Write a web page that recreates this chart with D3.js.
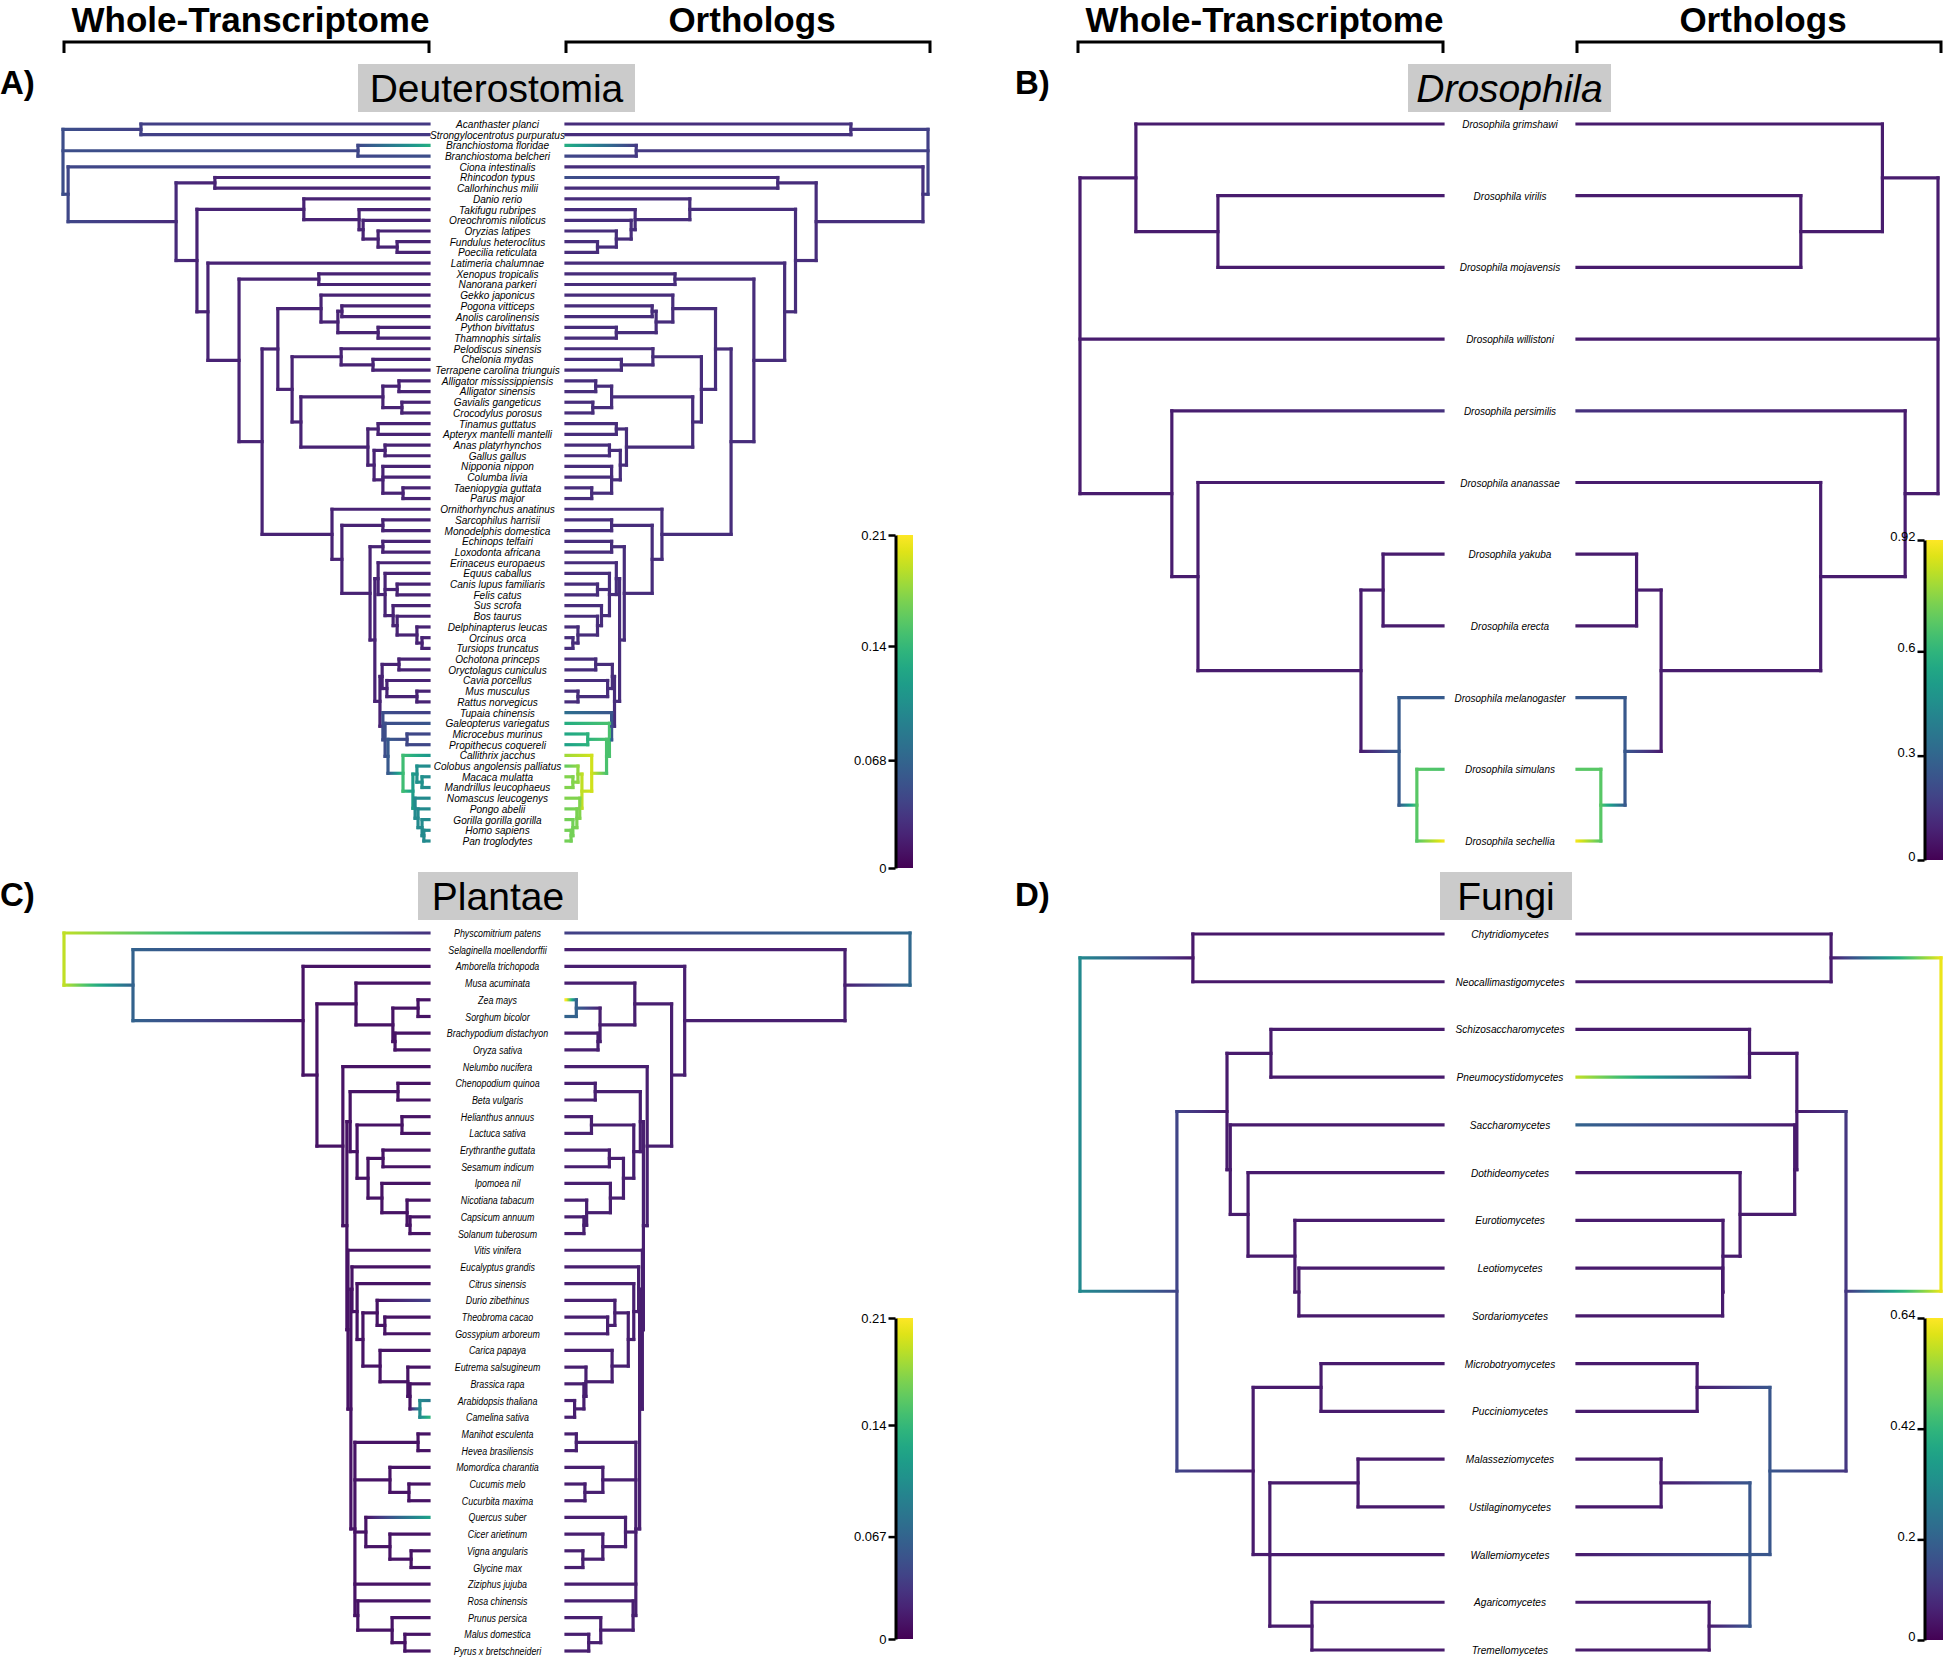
<!DOCTYPE html>
<html><head><meta charset="utf-8">
<script src="https://cdn.jsdelivr.net/npm/d3@7"></script>
<style>
body{margin:0;background:#fff}
text{font-family:"Liberation Sans",Arial,Helvetica,sans-serif}
</style>
</head><body>
<svg id="c" width="1945" height="1658" xmlns="http://www.w3.org/2000/svg"></svg>
<script>
// ---------------- DATA ----------------
// Trees: Newick topology, internal nodes "Name@height" (height: 0 = tips, 1 = root)
const treeA = `(
 (Acanthaster planci,Strongylocentrotus purpuratus)Echinodermata@0.787,
 (Branchiostoma floridae,Branchiostoma belcheri)Branchiostoma@0.194,
 (Ciona intestinalis,
  ((Rhincodon typus,Callorhinchus milii)Chondrichthyes@0.585,
   ((Danio rerio,(Takifugu rubripes,(Oreochromis niloticus,(Oryzias latipes,(Fundulus heteroclitus,Poecilia reticulata)Cyprinodontiformes@0.087)Atherinomorphae@0.139)Ovalentaria@0.180)Percomorpha@0.191)Actinopterygii@0.342,
    (Latimeria chalumnae,
     ((Xenopus tropicalis,Nanorana parkeri)Amphibia@0.301,
      (
       ((Gekko japonicus,((Pogona vitticeps,Anolis carolinensis)Iguania@0.238,(Python bivittatus,Thamnophis sirtalis)Serpentes@0.139)Toxicofera@0.249)Squamata@0.295,
        ((Pelodiscus sinensis,(Chelonia mydas,Terrapene carolina triunguis)Cryptodira@0.153)Testudines@0.240,
         (((Alligator mississippiensis,Alligator sinensis)Alligator@0.082,(Gavialis gangeticus,Crocodylus porosus)Longirostres@0.074)Crocodylia@0.126,
          ((Tinamus guttatus,Apteryx mantelli mantelli)Palaeognathae@0.139,((Anas platyrhynchos,Gallus gallus)Galloanserae@0.120,(Nipponia nippon,Columba livia,(Taeniopygia guttata,Parus major)Passeriformes@0.071)Neoaves@0.126)Neognathae@0.150)Aves@0.167
         )Archosauria@0.350
        )Archelosauria@0.374
       )Sauropsida@0.413,
       (Ornithorhynchus anatinus,
        ((Sarcophilus harrisii,Monodelphis domestica)Marsupialia@0.126,
         ((Echinops telfairi,Loxodonta africana)Afrotheria@0.126,
          ((Erinaceus europaeus,(Equus caballus,(Canis lupus familiaris,Felis catus)Carnivora@0.087,(Sus scrofa,(Bos taurus,(Delphinapterus leucas,(Orcinus orca,Tursiops truncatus)Delphinidae@0.019)Cetacea@0.033)Cetruminantia@0.087)Cetartiodactyla@0.098)Scrotifera@0.120)Laurasiatheria@0.139,
           (((Ochotona princeps,Oryctolagus cuniculus)Lagomorpha@0.082,(Cavia porcellus,(Mus musculus,Rattus norvegicus)Muridae@0.033)Rodentia@0.115)Glires@0.128,
            (Tupaia chinensis,(Galeopterus variegatus,((Microcebus murinus,Propithecus coquereli)Strepsirrhini@0.060,(Callithrix jacchus,((Colobus angolensis palliatus,(Macaca mulatta,Mandrillus leucophaeus)Papionini@0.019)Cercopithecidae@0.033,(Nomascus leucogenys,(Pongo abelii,(Gorilla gorilla gorilla,(Homo sapiens,Pan troglodytes)Hominini@0.014)Homininae@0.019)Hominidae@0.030)Hominoidea@0.038)Catarrhini@0.044)Haplorhini@0.071)Primates@0.112)Primatomorpha@0.120)Euarchonta@0.126
           )Euarchontoglires@0.134
          )Boreoeutheria@0.148
         )Eutheria@0.161
        )Theria@0.238
       )Mammalia@0.265
      )Amniota@0.456
     )Tetrapoda@0.519
    )Sarcopterygii@0.604
   )Osteichthyes@0.634
  )Vertebrata@0.691
 )Olfactores@0.986
)Root@1`;

const treeB = `((Drosophila grimshawi,(Drosophila virilis,Drosophila mojavensis)VirMoj@0.620)Drosophila@0.846,
 Drosophila willistoni,
 (Drosophila persimilis,(Drosophila ananassae,((Drosophila yakuba,Drosophila erecta)YakEre@0.165,(Drosophila melanogaster,(Drosophila simulans,Drosophila sechellia)SimSec@0.072)MelComplex@0.121)MelSub@0.226)MelGroup@0.675)Sophophora@0.747
)Root@1`;

const treeC = `(Physcomitrium patens,
 (Selaginella moellendorffii,
  (Amborella trichopoda,
   ((Musa acuminata,((Zea mays,Sorghum bicolor)Andropogoneae@0.030,(Brachypodium distachyon,Oryza sativa)BOP@0.093)Poaceae@0.099)Monocots@0.200,
    (Nelumbo nucifera,
     (((Chenopodium quinoa,Beta vulgaris)Caryophyllales@0.085,((Helianthus annuus,Lactuca sativa)Asterales@0.074,((Erythranthe guttata,Sesamum indicum)Lamiales@0.126,(Ipomoea nil,(Nicotiana tabacum,(Capsicum annuum,Solanum tuberosum)Solaneae@0.052)Solanaceae@0.060)Solanales@0.129)Lamiids@0.167)Asterids@0.197)Superasterids@0.216,
      (Vitis vinifera,
       ((Eucalyptus grandis,(Citrus sinensis,((Durio zibethinus,(Theobroma cacao,Gossypium arboreum)Malvoideae@0.121)Malvales@0.142,(Carica papaya,(Eutrema salsugineum,(Brassica rapa,(Arabidopsis thaliana,Camelina sativa)Camelineae@0.025)BrassCam@0.052)Brassicaceae@0.058)Brassicales@0.134)MalvBrass@0.181)Malvadendrina@0.197)Malvids@0.211,
        ((Manihot esculenta,Hevea brasiliensis)Malpighiales@0.030,(Momordica charantia,(Cucumis melo,Cucurbita maxima)Cucurbitaceae@0.055)Cucurbitales@0.107,(Quercus suber,(Cicer arietinum,(Vigna angularis,Glycine max)Phaseoleae@0.049)Fabales@0.107)FagFab@0.173,Ziziphus jujuba,(Rosa chinensis,(Prunus persica,(Malus domestica,Pyrus x bretschneideri)Maleae@0.066)Amygdaloideae@0.101)Rosaceae@0.195)Fabids@0.203
       )Rosids@0.214
      )Superrosids@0.222
     )CoreEudicots@0.225
    )Eudicots@0.236
   )Mesangiosperms@0.307
  )Angiosperms@0.345
 )Tracheophyta@0.811
)Root@1`;

const treeD = `((Chytridiomycetes,Neocallimastigomycetes)ChyNeo@0.689,
 (((Schizosaccharomycetes,Pneumocystidomycetes)Taphrinomycotina@0.474,(Saccharomycetes,(Dothideomycetes,(Eurotiomycetes,(Leotiomycetes,Sordariomycetes)LeoSor@0.397)EurLS@0.408)Pezizomycotina@0.537)Saccharomyceta@0.586)Ascomycota@0.595,
  ((Microbotryomycetes,Pucciniomycetes)Pucciniomycotina@0.336,((Malasseziomycetes,Ustilaginomycetes)Ustilaginomycotina@0.234,Wallemiomycetes,(Agaricomycetes,Tremellomycetes)AgaTre@0.361)UstAga@0.477)Basidiomycota@0.523
 )Dikarya@0.733
)Root@1`;

// node heights that differ in the Orthologs trees
const heightsB_right = {Sophophora: 0.909, MelSub: 0.233, MelComplex: 0.133, SimSec: 0.066};
const heightsD_right = {ChyNeo: 0.698, Dikarya: 0.739, Ascomycota: 0.604, Saccharomyceta: 0.598, Pezizomycotina: 0.448,
  EurLS: 0.401, LeoSor: 0.400, Basidiomycota: 0.530, Pucciniomycotina: 0.330, Ustilaginomycotina: 0.231, UstAga: 0.475, AgaTre: 0.363};

// branch colour values (node -> value, "default" for all others)
const colorsA_left = {default: 0.02, Root: 0.05, Echinodermata: 0.04, "Acanthaster planci": 0.035, "Strongylocentrotus purpuratus": 0.035,
  Branchiostoma: 0.045, "Branchiostoma floridae": 0.13, "Branchiostoma belcheri": 0.05, Olfactores: 0.045, "Ciona intestinalis": 0.035,
  Vertebrata: 0.025, Euarchonta: 0.05, "Tupaia chinensis": 0.04, Primatomorpha: 0.05, "Galeopterus variegatus": 0.055, Primates: 0.058,
  Strepsirrhini: 0.045, "Microcebus murinus": 0.045, "Propithecus coquereli": 0.045, Haplorhini: 0.145, "Callithrix jacchus": 0.11,
  Catarrhini: 0.115, Cercopithecidae: 0.105, "Colobus angolensis palliatus": 0.1, Papionini: 0.105, "Macaca mulatta": 0.1,
  "Mandrillus leucophaeus": 0.1, Hominoidea: 0.1, "Nomascus leucogenys": 0.1, Hominidae: 0.1, "Pongo abelii": 0.1, Homininae: 0.1,
  "Gorilla gorilla gorilla": 0.1, Hominini: 0.1, "Homo sapiens": 0.1, "Pan troglodytes": 0.1};
const colorsA_right = {default: 0.027, Root: 0.04, Echinodermata: 0.03, Branchiostoma: 0.035, "Branchiostoma floridae": 0.13,
  "Branchiostoma belcheri": 0.045, Olfactores: 0.03, "Rhincodon typus": 0.05, Euarchonta: 0.055, "Tupaia chinensis": 0.075,
  Primatomorpha: 0.15, "Galeopterus variegatus": 0.13, Primates: 0.15, Strepsirrhini: 0.135, "Microcebus murinus": 0.125,
  "Propithecus coquereli": 0.12, Haplorhini: 0.195, "Callithrix jacchus": 0.18, Catarrhini: 0.19, Cercopithecidae: 0.175,
  "Colobus angolensis palliatus": 0.16, Papionini: 0.17, "Macaca mulatta": 0.17, "Mandrillus leucophaeus": 0.17, Hominoidea: 0.17,
  "Nomascus leucogenys": 0.17, Hominidae: 0.168, "Pongo abelii": 0.165, Homininae: 0.165, "Gorilla gorilla gorilla": 0.165,
  Hominini: 0.165, "Homo sapiens": 0.165, "Pan troglodytes": 0.165};
const colorsB_left = {default: 0.07, "Drosophila persimilis": 0.13, MelComplex: 0.26, "Drosophila melanogaster": 0.26,
  SimSec: 0.68, "Drosophila simulans": 0.66, "Drosophila sechellia": 0.9};
const colorsB_right = {default: 0.07, "Drosophila persimilis": 0.13, MelComplex: 0.25, "Drosophila melanogaster": 0.25,
  SimSec: 0.68, "Drosophila simulans": 0.68, "Drosophila sechellia": 0.9};
const colorsC_left = {default: 0.01, Root: 0.19, "Physcomitrium patens": 0.03, Tracheophyta: 0.065, "Selaginella moellendorffii": 0.015,
  Camelineae: 0.1, "Arabidopsis thaliana": 0.085, "Camelina sativa": 0.135, "Quercus suber": 0.12, "Durio zibethinus": 0.04};
const colorsC_right = {default: 0.018, Root: 0.07, "Physcomitrium patens": 0.04, Andropogoneae: 0.065, "Zea mays": 0.21,
  "Sorghum bicolor": 0.065};
const colorsD_left = {default: 0.045, Root: 0.3, ChyNeo: 0.04, Dikarya: 0.13};
const colorsD_right = {default: 0.045, Root: 0.62, Dikarya: 0.1, Pneumocystidomycetes: 0.58, Saccharomycetes: 0.2,
  Basidiomycota: 0.17, UstAga: 0.17};

// colour bar ticks
const ticksA = ["0", "0.068", "0.14", "0.21"];
const ticksB = ["0", "0.3", "0.6", "0.92"];
const ticksC = ["0", "0.067", "0.14", "0.21"];
const ticksD = ["0", "0.2", "0.42", "0.64"];

const titles = ["Deuterostomia", "Drosophila", "Plantae", "Fungi"];
const panelLetters = ["A)", "B)", "C)", "D)"];
const headers = ["Whole-Transcriptome", "Orthologs"];

// ---------------- LAYOUT ----------------
const svg = d3.select("#c");
const defs = svg.append("defs");
svg.append("rect").attr("width", 1945).attr("height", 1658).attr("fill", "#fff");

function parseTree(str) {
  str = str.replace(/\s*([(),@])\s*/g, "$1").trim();
  let i = 0;
  function node() {
    const n = {children: []};
    if (str[i] === "(") {
      i++;
      n.children.push(node());
      while (str[i] === ",") { i++; n.children.push(node()); }
      i++;
    }
    const s = i;
    while (i < str.length && !",()".includes(str[i])) i++;
    const parts = str.slice(s, i).split("@");
    n.name = parts[0].trim();
    n.h = parts.length > 1 ? +parts[1] : 0;
    return n;
  }
  return node();
}

const vir = defs.append("linearGradient").attr("id", "virbar").attr("x1", 0).attr("y1", 1).attr("x2", 0).attr("y2", 0);
for (let i = 0; i <= 20; i++) vir.append("stop").attr("offset", i / 20).attr("stop-color", d3.interpolateViridis(i / 20));

let gid = 0;
const SW = 3.2;

function drawSide(g, root, panel, side) {
  const x = d3.scaleLinear().domain([0, 1]).range([side.tip, side.root]);
  const y = d3.scaleLinear().domain([0, panel.n - 1]).range([panel.yTop, panel.yBot]);
  const hOf = d => (side.heights && side.heights[d.data.name] !== undefined) ? side.heights[d.data.name] : d.data.h;
  const vOf = d => side.colors[d.data.name] !== undefined ? side.colors[d.data.name] : side.colors.default;
  const col = v => d3.interpolateViridis(Math.max(0, Math.min(1, v / panel.max)));
  let k = 0;
  root.eachAfter(d => {
    if (!d.children) d.yi = k++;
    else d.yi = (d.children[0].yi + d.children[d.children.length - 1].yi) / 2;
  });
  const gl = g.append("g").attr("fill", "none").attr("stroke-width", SW).attr("stroke-linecap", "square");
  root.each(d => {
    if (d.children) {
      gl.append("line").attr("x1", x(hOf(d))).attr("x2", x(hOf(d)))
        .attr("y1", y(d.children[0].yi)).attr("y2", y(d.children[d.children.length - 1].yi))
        .attr("stroke", col(vOf(d)));
    }
  });
  root.each(d => {
    if (!d.parent) return;
    const x1 = x(hOf(d.parent)), x2 = x(hOf(d)), vp = vOf(d.parent), vc = vOf(d);
    let stroke;
    if (Math.abs(vp - vc) < 1e-9) stroke = col(vc);
    else {
      const id = "bg" + (gid++);
      const lg = defs.append("linearGradient").attr("id", id).attr("gradientUnits", "userSpaceOnUse")
        .attr("x1", x1).attr("x2", x2).attr("y1", 0).attr("y2", 0);
      for (let s = 0; s <= 8; s++) lg.append("stop").attr("offset", s / 8).attr("stop-color", col(vp + (vc - vp) * s / 8));
      stroke = `url(#${id})`;
    }
    gl.append("line").attr("x1", x1).attr("x2", x2).attr("y1", y(d.yi)).attr("y2", y(d.yi)).attr("stroke", stroke);
  });
  return y;
}

function drawPanel(p) {
  const g = svg.append("g");
  const mk = () => d3.hierarchy(parseTree(p.tree), d => d.children.length ? d.children : null);
  const rl = mk(), rr = mk();
  const y = drawSide(g, rl, p, p.left);
  drawSide(g, rr, p, p.right);
  // tip labels
  rl.leaves().forEach(d => {
    g.append("text").attr("transform", `translate(${p.labelX},${y(d.yi)}) scale(${p.sx},1)`)
      .attr("text-anchor", "middle").attr("dy", "0.35em").attr("font-style", "italic")
      .attr("font-size", p.font).attr("fill", "#000").text(d.data.name);
  });
  // title box
  g.append("rect").attr("x", p.box[0]).attr("y", p.box[1]).attr("width", p.box[2] - p.box[0]).attr("height", p.box[3] - p.box[1]).attr("fill", "#cbcbcb");
  g.append("text").attr("x", (p.box[0] + p.box[2]) / 2).attr("y", p.titleY).attr("text-anchor", "middle")
    .attr("font-size", 39).attr("font-style", p.italicTitle ? "italic" : "normal").text(p.title);
  g.append("text").attr("x", p.letterX).attr("y", p.letterY).attr("font-size", 33).attr("font-weight", "bold").text(p.letter);
  // colour bar
  const b = p.bar;
  g.append("rect").attr("x", b.x).attr("y", b.y0).attr("width", b.w).attr("height", b.y1 - b.y0).attr("fill", "url(#virbar)");
  const s = d3.scaleLinear().domain([0, p.max]).range([b.y1, b.y0]);
  const ax = g.append("g").attr("transform", `translate(${b.x - 1.5},0)`)
    .call(d3.axisLeft(s).tickValues(p.ticks.map(Number)).tickFormat((d, i) => p.ticks[i]).tickSize(7).tickSizeOuter(0).tickPadding(2));
  ax.select(".domain").attr("stroke", "#000").attr("stroke-width", 3);
  ax.selectAll(".tick line").attr("stroke", "#000").attr("stroke-width", 2.5);
  ax.selectAll(".tick text").attr("font-size", 13).attr("fill", "#000").attr("font-family", "Liberation Sans, Arial, sans-serif")
    .attr("dy", p.tickDy);
}

const panels = [
  {tree: treeA, n: 68, yTop: 124, yBot: 841, labelX: 497.5, font: 11.2, sx: 0.9, max: 0.21, ticks: ticksA, tickDy: "0.32em",
   left: {tip: 429, root: 63, colors: colorsA_left}, right: {tip: 566, root: 928, colors: colorsA_right},
   bar: {x: 897, w: 16, y0: 535, y1: 868}, box: [358, 64, 635, 112], titleY: 102, title: titles[0], letter: panelLetters[0], letterX: 0, letterY: 94},
  {tree: treeB, n: 11, yTop: 124, yBot: 841, labelX: 1510, font: 11.5, sx: 0.87, max: 0.92, ticks: ticksB, tickDy: "0.05em",
   left: {tip: 1443, root: 1080, colors: colorsB_left}, right: {tip: 1577, root: 1938, colors: colorsB_right, heights: heightsB_right},
   bar: {x: 1926, w: 17, y0: 540, y1: 860}, box: [1408, 64, 1611, 112], titleY: 102, title: titles[1], italicTitle: true, letter: panelLetters[1], letterX: 1015, letterY: 94},
  {tree: treeC, n: 44, yTop: 933, yBot: 1651, labelX: 497.5, font: 11.5, sx: 0.77, max: 0.21, ticks: ticksC, tickDy: "0.32em",
   left: {tip: 429, root: 64, colors: colorsC_left}, right: {tip: 566, root: 910, colors: colorsC_right},
   bar: {x: 897, w: 16, y0: 1318, y1: 1639}, box: [418, 872, 578, 920], titleY: 910, title: titles[2], letter: panelLetters[2], letterX: 0, letterY: 906},
  {tree: treeD, n: 16, yTop: 934, yBot: 1650, labelX: 1510, font: 11.5, sx: 0.88, max: 0.64, ticks: ticksD, tickDy: "0.05em",
   left: {tip: 1443, root: 1080, colors: colorsD_left}, right: {tip: 1577, root: 1941, colors: colorsD_right, heights: heightsD_right},
   bar: {x: 1926, w: 17, y0: 1318, y1: 1640}, box: [1440, 872, 1572, 920], titleY: 910, title: titles[3], letter: panelLetters[3], letterX: 1015, letterY: 906}
];
panels.forEach(drawPanel);

// headers with brackets
const brackets = [[64, 429, 0], [566, 930, 1], [1078, 1443, 0], [1577, 1941, 1]];
brackets.forEach(([a, b, k]) => {
  svg.append("text").attr("x", (a + b) / 2 + 4).attr("y", 32).attr("text-anchor", "middle").attr("font-size", 35)
    .attr("font-weight", "bold").text(headers[k]);
  svg.append("path").attr("d", `M${a},53V42H${b}V53`).attr("fill", "none").attr("stroke", "#000").attr("stroke-width", 3);
});
</script>
</body></html>
